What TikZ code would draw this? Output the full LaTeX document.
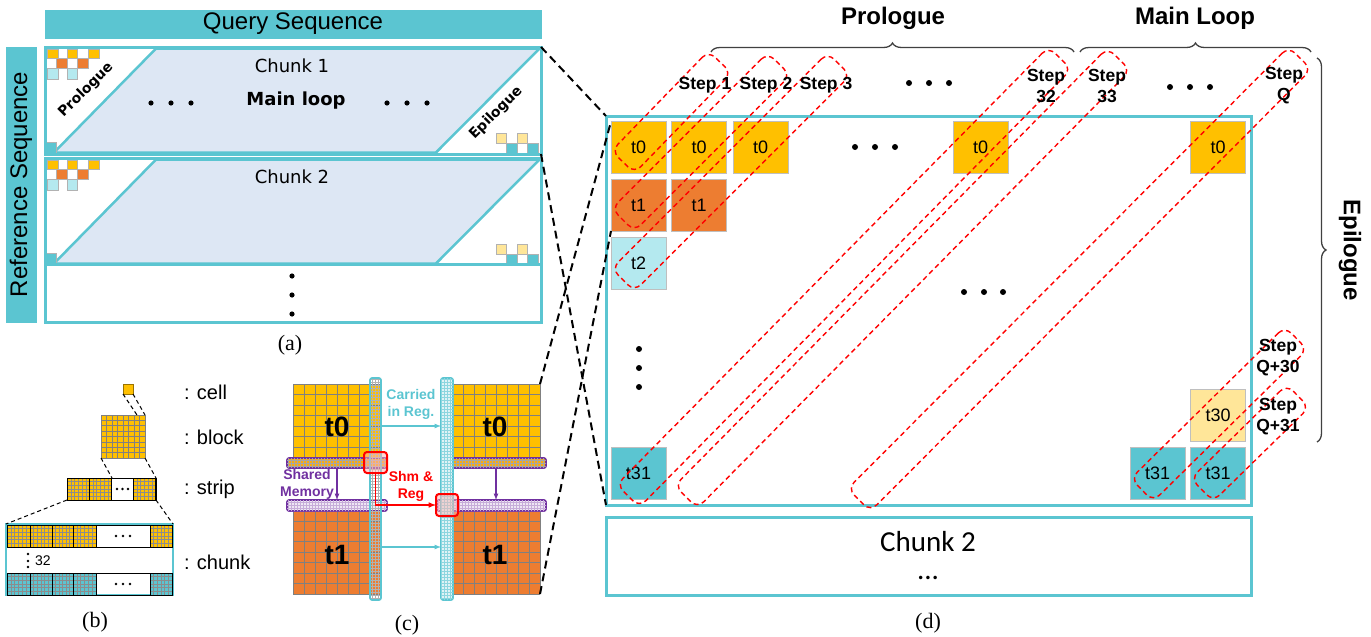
\documentclass[tikz,border=0pt]{standalone}
\usepackage{fontspec}
\setmainfont{Liberation Sans}
\newfontfamily\tahoma{DejaVu Sans}
\newfontfamily\calib{Carlito}
\newfontfamily\capfont{Liberation Serif}
\usepackage{tikz}
\usetikzlibrary{calc,patterns,decorations.pathreplacing}
\definecolor{tealc}{HTML}{5BC5D1}
\definecolor{goldc}{HTML}{FFC000}
\definecolor{orangec}{HTML}{ED7D31}
\definecolor{icec}{HTML}{B4E9EF}
\definecolor{creamc}{HTML}{FFE699}
\definecolor{paleblue}{HTML}{DDE7F4}
\definecolor{purplec}{HTML}{7030A0}
\newcommand{\fsz}[1]{\fontsize{#1}{#1}\selectfont}
\tikzstyle{arrow} = [-latex]
\tikzstyle{tealbar} = [fill=tealc, draw=tealc, line width=1pt]
\tikzstyle{chunkbox} = [draw=tealc, line width=3pt]
\tikzstyle{zoomline} = [dash pattern=on 8pt off 5pt, line width=2pt]
\tikzstyle{thindash} = [dash pattern=on 4pt off 3pt, line width=1pt]
\tikzstyle{acell} = [draw=black!30, line width=0.5pt]
\tikzstyle{dblk} = [draw=black!25, line width=0.6pt, minimum width=55pt, minimum height=52pt, font=\fsz{18}]
\tikzstyle{stepband} = [draw=red, dash pattern=on 5pt off 3.5pt, line width=1.4pt, rounded corners=9pt, minimum height=32pt]
\tikzstyle{steplbl} = [font=\bfseries\fontsize{17.5}{21}\selectfont, align=center]
\tikzstyle{gridln} = [draw=black!50, line width=0.7pt]
\tikzstyle{finegrid} = [draw=black!45, line width=0.4pt]
\tikzstyle{pbar} = [draw=purplec, line width=1.6pt, rounded corners=2pt]
\tikzstyle{cbar} = [draw=tealc, line width=1.6pt, rounded corners=2pt]
\tikzstyle{redsq} = [draw=red, line width=2pt, rounded corners=3pt, fill=red!30, fill opacity=0.5]
\tikzstyle{brc} = [decorate, decoration={brace, amplitude=9pt}, draw=black!75, line width=1.3pt]
\tikzstyle{subcap} = [font=\capfont\fsz{22}]
% grid of cells: x0, y0, width, height, columns, rows, style
\newcommand{\cellgrid}[7]{%
  \foreach \gi in {0,...,#5} \draw[#7] ({#1+\gi*#3/#5},#2) -- ++(0,#4);
  \foreach \gj in {0,...,#6} \draw[#7] (#1,{#2+\gj*#4/#6}) -- ++(#3,0);
}
% hatched segment of (b): x0, y0, width, height, colour
\newcommand{\hseg}[5]{%
  \fill[#5] (#1,#2) rectangle ++(#3,#4);
  \cellgrid{#1}{#2}{#3}{#4}{6}{6}{finegrid}
  \draw[line width=0.8pt] (#1,#2) rectangle ++(#3,#4);
}
\begin{document}
\begin{tikzpicture}[x=1pt, y=-1pt, every node/.style={inner sep=0pt, outer sep=0pt}]
\useasboundingbox (0,0) rectangle (1371,637);

% (a) query / reference sequences
\foreach \oy in {0,111}{
  \begin{scope}[shift={(0,\oy)}]
    \filldraw[fill=paleblue, draw=tealc, line width=2.5pt] (156,48.5) -- (539.5,48.5) -- (436,152.5) -- (54,152.5) -- cycle;
    \foreach \cx in {47.5,67,88.6} \filldraw[acell, fill=goldc] (\cx,49) rectangle ++(10.5,9.3);
    \foreach \cx in {56,77.5} \filldraw[acell, fill=orangec] (\cx,58.3) rectangle ++(11,10);
    \foreach \cx in {47.5,67} \filldraw[acell, fill=icec] (\cx,68.3) rectangle ++(10.5,10.5);
    \filldraw[acell, fill=tealc] (46,142) rectangle ++(10,11);
    \foreach \cx in {496,517} \filldraw[acell, fill=creamc] (\cx,133) rectangle ++(10.5,10);
    \foreach \cx in {506.5,527.5} \filldraw[acell, fill=tealc] (\cx,143) rectangle ++(10.5,10);
  \end{scope}
}
\node[tealbar, minimum width=496pt, minimum height=28pt] (query) at (293,24) {\fsz{24}Query Sequence};
\node[tealbar, minimum width=275pt, minimum height=30pt, rotate=90] (refseq) at (21,184.5) {\fsz{24}Reference Sequence};
\node[chunkbox, minimum width=496pt, minimum height=107pt] (chunk1) at (293,100.5) {};
\node[chunkbox, minimum width=496pt, minimum height=106pt] (chunk2) at (293,211) {};
\node[chunkbox, minimum width=496pt, minimum height=58pt] (chunkn) at (293,293) {};
\node (c1lbl) at (292,66) {\tahoma\fsz{18}Chunk 1};
\node (mainlbl) at (296,101) {\tahoma\bfseries\fsz{18}Main loop};
\node[rotate=45] (prolbl) at (86,90) {\tahoma\bfseries\fsz{14}Prologue};
\node[rotate=45] (epilbl) at (496,113) {\tahoma\bfseries\fsz{14}Epilogue};
\node (c2lbl) at (292,177) {\tahoma\fsz{18}Chunk 2};
\foreach \dx in {151,171,191,387,407,427} \fill (\dx,103) circle (2.6);
\foreach \dy in {276,295,314} \fill (292,\dy) circle (2.6);
\node[subcap] (capa) at (290,345) {(a)};

% (b) cell, block, strip, chunk
\node[draw=goldc!60!black, fill=goldc, minimum size=10pt, line width=0.5pt] (bcell) at (128,389) {};
\node[fill=goldc, minimum width=44pt, minimum height=43pt] (bblock) at (123,436.5) {};
\cellgrid{101}{415}{44}{43}{8}{8}{gridln}
\foreach \sx in {67,89,133} {\hseg{\sx}{478}{22.5}{22}{goldc}}
\node[draw, line width=0.8pt, minimum width=89pt, minimum height=22pt] (bstrip) at (111.5,489) {};
\foreach \dx in {117,122.5,128} \fill (\dx,489) circle (1.3);
\node[draw=tealc, line width=1.5pt, minimum width=167pt, minimum height=71pt] (bchunk) at (89.5,559.5) {};
\foreach \sx/\sw in {7/23,30/22,52/21,73/23,150/22} {
  \hseg{\sx}{525}{\sw}{22}{goldc}
  \hseg{\sx}{573}{\sw}{22}{tealc}
}
\draw[line width=0.8pt] (96,525) rectangle (150,547);
\draw[line width=0.8pt] (96,573) rectangle (150,595);
\foreach \dx in {116,123,130} {\fill (\dx,536) circle (1.3); \fill (\dx,584) circle (1.3);}
\foreach \dy in {554,561,567} \fill (28,\dy) circle (1.4);
\node (b32) at (43,561) {\fsz{14}32};
\draw[thindash] (bcell.south west) -- ($(bblock.north east)+(-8,0)$);
\draw[thindash] (bcell.south east) -- (bblock.north east);
\draw[thindash] (bblock.south west) -- ($(bstrip.north west)+(45,0)$);
\draw[thindash] (bblock.south east) -- (bstrip.north east);
\draw[thindash] (bstrip.south west) -- (bchunk.north west);
\draw[thindash] (bstrip.south east) -- (bchunk.north east);
\node[anchor=west] (lcell) at (184,392) {\fsz{20}: cell};
\node[anchor=west] (lblock) at (184,437) {\fsz{20}: block};
\node[anchor=west] (lstrip) at (184,489) {\fsz{20}: strip};
\node[anchor=west] (lchunk) at (184,562) {\fsz{20}: chunk};
\node[subcap] (capb) at (95,622) {(b)};

% (c) two strips of t0 and t1
\node[fill=goldc, minimum width=88pt, minimum height=84pt] (ct0l) at (337,426) {};
\node[fill=orangec, minimum width=88pt, minimum height=94pt] (ct1l) at (337,547) {};
\node[fill=goldc, minimum width=88pt, minimum height=84pt] (ct0r) at (496,426) {};
\node[fill=orangec, minimum width=88pt, minimum height=94pt] (ct1r) at (496,547) {};
\cellgrid{293}{384}{88}{84}{8}{8}{gridln}
\cellgrid{293}{500}{88}{94}{8}{9}{gridln}
\cellgrid{452}{384}{88}{84}{8}{8}{gridln}
\cellgrid{452}{500}{88}{94}{8}{9}{gridln}
\node[pbar, fill=goldc!70!orangec, postaction={pattern=grid, pattern color=black!35}, minimum width=100pt, minimum height=10pt] (shm0l) at (337,463) {};
\node[pbar, fill=purplec!12, postaction={pattern=grid, pattern color=purplec!40}, minimum width=100pt, minimum height=11pt] (shm1l) at (337,505.5) {};
\node[pbar, fill=goldc!70!orangec, postaction={pattern=grid, pattern color=black!35}, minimum width=99pt, minimum height=10pt] (shm0r) at (496.5,463) {};
\node[pbar, fill=purplec!12, postaction={pattern=grid, pattern color=purplec!40}, minimum width=109pt, minimum height=11pt] (shm1r) at (491.5,505.5) {};
\node[cbar, pattern=grid, pattern color=black!30, minimum width=11pt, minimum height=222pt] (cbarl) at (375.5,489) {};
\node[cbar, fill=tealc!20, postaction={pattern=grid, pattern color=tealc!70}, minimum width=12pt, minimum height=222pt] (cbarr) at (447,489) {};
\node[redsq, minimum width=23pt, minimum height=21pt] (redl) at (375.5,462.5) {};
\node[redsq, minimum width=22pt, minimum height=22pt] (redr) at (447,505) {};
\node (lt0) at (337,427) {\bfseries\fsz{28}t0};
\node (lt1) at (337,555) {\bfseries\fsz{28}t1};
\node (rt0) at (495,427) {\bfseries\fsz{28}t0};
\node (rt1) at (495,555) {\bfseries\fsz{28}t1};
\draw[arrow, draw=tealc, line width=1.2pt] (cbarl.east |- ct0l.center) -- (cbarr.west |- ct0l.center);
\draw[arrow, draw=tealc, line width=1.2pt] (cbarl.east |- ct1l.center) -- (cbarr.west |- ct1l.center);
\draw[arrow, draw=purplec, line width=1.2pt] (shm0l.south -| lt0) -- (shm1l.north -| lt0);
\draw[arrow, draw=purplec, line width=1.2pt] (shm0r.south -| ct0r) -- (shm1r.north -| ct0r);
\draw[arrow, draw=red, line width=1.5pt] (redl.south) |- (redr.west);
\node[text=tealc, align=center, font=\bfseries\fontsize{14}{17}\selectfont] (carried) at (411,404.5) {Carried\\in Reg.};
\node[text=purplec, align=center, font=\bfseries\fontsize{14}{17}\selectfont] (shmlbl) at (307,484.5) {Shared\\Memory};
\node[text=red, align=center, font=\bfseries\fontsize{14}{17}\selectfont] (shmreg) at (411,486.5) {Shm \&\\Reg};
\node[subcap] (capc) at (407,625) {(c)};

% (d) one chunk, step by step
\node[chunkbox, minimum width=645pt, minimum height=389pt] (dbox) at (928.5,310.5) {};
\node[chunkbox, minimum width=645pt, minimum height=78pt] (dchunk2) at (928.5,556) {};
\node (dc2lbl) at (928,542) {\calib\fsz{29}Chunk 2};
\node (dc2dots) at (928,578) {\calib\fsz{29}...};
\node[dblk, fill=goldc] (q0a) at (638.5,147.5) {t0};
\node[dblk, fill=goldc] (q0b) at (699,147.5) {t0};
\node[dblk, fill=goldc] (q0c) at (760.5,147.5) {t0};
\node[dblk, fill=goldc] (q0d) at (980.5,147.5) {t0};
\node[dblk, fill=goldc] (q0e) at (1218,147.5) {t0};
\node[dblk, fill=orangec] (q1a) at (638.5,205) {t1};
\node[dblk, fill=orangec] (q1b) at (699,205) {t1};
\node[dblk, fill=icec] (q2a) at (638.5,263) {t2};
\node[dblk, fill=creamc] (q30e) at (1218,415.5) {t30};
\node[dblk, fill=tealc] (q31a) at (638.5,473) {t31};
\node[dblk, fill=tealc] (q31d) at (1157.5,473) {t31};
\node[dblk, fill=tealc] (q31e) at (1218,473) {t31};
\foreach \dx in {855,875,895} \fill (\dx,147) circle (3);
\foreach \dx in {964,984,1003} \fill (\dx,292) circle (3);
\foreach \dx in {909,929,949} \fill (\dx,83) circle (3);
\foreach \dx in {1170,1190,1210} \fill (\dx,87) circle (3);
\foreach \dy in {349,368,387} \fill (639,\dy) circle (3);
\foreach \xa/\ya/\xb/\yb [count=\k] in {623/162/720/62, 623/220/779/64, 623/280/839/64, 628/496/1060/58, 686/497/1119/59, 859/500/1300/58, 1142/490/1296/338, 1202/490/1298/396}{
  \coordinate (sb\k) at (\xa,\ya);
  \coordinate (st\k) at (\xb,\yb);
  \path let \p1=($(st\k)-(sb\k)$), \n1={veclen(\x1,\y1)}, \n2={atan2(\y1,\x1)} in
    node[stepband, minimum width=\n1, rotate=\n2] at ($(sb\k)!0.5!(st\k)$) {};
}
\node[steplbl] (st1l) at (705,85) {Step 1};
\node[steplbl] (st2l) at (766,85) {Step 2};
\node[steplbl] (st3l) at (826,85) {Step 3};
\node[steplbl] (st32l) at (1046,85.5) {Step\\32};
\node[steplbl] (st33l) at (1107,85.5) {Step\\33};
\node[steplbl] (stql) at (1284,85.5) {Step\\Q};
\node[steplbl] (stq30l) at (1278,358) {Step\\Q+30};
\node[steplbl] (stq31l) at (1278,416.5) {Step\\Q+31};
\coordinate (prolA) at (711,52);
\coordinate (prolB) at (1074,52);
\coordinate (mainA) at (1080,52);
\coordinate (mainB) at (1311,52);
\coordinate (epiA) at (1317,58);
\coordinate (epiB) at (1317,442);
\draw[brc] (prolA) -- (prolB);
\draw[brc] (mainA) -- (mainB);
\draw[brc] (epiA) -- (epiB);
\node (prolhd) at (893,18) {\bfseries\fsz{24}Prologue};
\node (mainhd) at (1195,18) {\bfseries\fsz{24}Main Loop};
\node[rotate=-90] (epihd) at (1350,250) {\bfseries\fsz{24}Epilogue};
\node[subcap] (capd) at (928,623) {(d)};

% zoom lines
\draw[zoomline] (chunk1.north east) -- (dbox.north west);
\draw[zoomline] (chunk1.south east) -- (dbox.south west);
\draw[zoomline] (ct0r.north east) -- (q0a.north west);
\draw[zoomline] (ct1r.south east) -- (q1a.south west);
\end{tikzpicture}
\end{document}
